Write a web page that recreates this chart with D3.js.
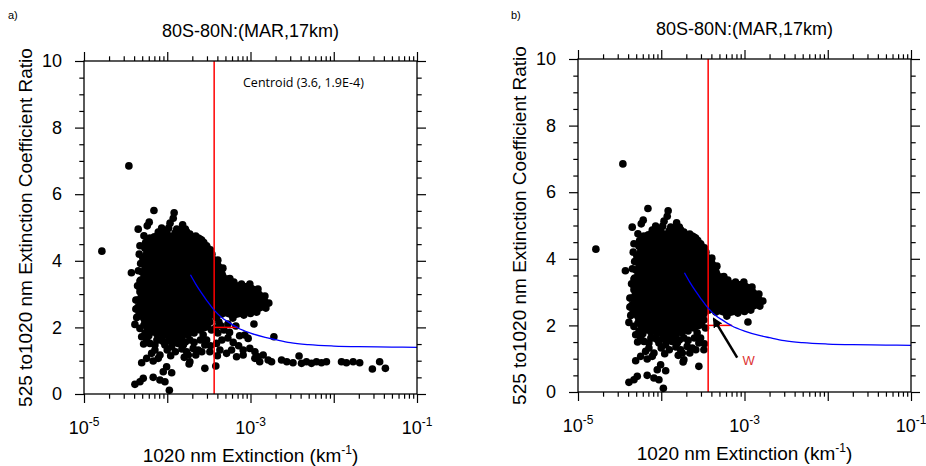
<!DOCTYPE html>
<html>
<head>
<meta charset="utf-8">
<script src="https://cdn.jsdelivr.net/npm/d3@7"></script>
<style>
  body { margin: 0; background: #fff; }
  svg { display: block; font-family: "Liberation Sans", Arial, Helvetica, sans-serif; }
</style>
</head>
<body>
<svg id="chart" width="926" height="466"></svg>
<script>
// ---- data ----
const titleText = "80S-80N:(MAR,17km)";
const xTitle = "1020 nm Extinction (km";
const yTitle = "525 to1020 nm Extinction Coefficient Ratio";

const xDomain = [1e-5, 1e-1];
const yDomain = [0, 10];
const xDecades = [1e-5, 1e-4, 1e-3, 1e-2, 1e-1];
const xLabelled = [1e-5, 1e-3, 1e-1];
const xLabelExp = ["-5", "-3", "-1"];
const yMajor = [0, 2, 4, 6, 8, 10];
const yMinor = [0.5, 1, 1.5, 2.5, 3, 3.5, 4.5, 5, 5.5, 6.5, 7, 7.5, 8.5, 9, 9.5];

const redLineX = 3.66e-4;
const wSegment = [[3.66e-4, 2.0], [7.1e-4, 2.0]];
const centroidLabel = "Centroid (3.6, 1.9E-4)";

// fitted curve (blue)
const fitCurve = [
  [1.9e-4, 3.58], [2.2e-4, 3.3], [2.6e-4, 3.02], [3.0e-4, 2.8], [3.66e-4, 2.52],
  [4.5e-4, 2.3], [5.5e-4, 2.15], [7e-4, 1.99], [1e-3, 1.83], [1.5e-3, 1.7],
  [2e-3, 1.63], [3e-3, 1.54], [5e-3, 1.48], [1e-2, 1.44], [2e-2, 1.42],
  [5e-2, 1.41], [1e-1, 1.40]
];

// outline of the solid, saturated part of the point cloud (edge points)
const coreOutline = [
  [5.40e-5, 4.38], [6.19e-5, 4.62], [7.0e-5, 4.72], [8.17e-5, 4.77], [1.0e-4, 4.80],
  [1.24e-4, 4.83], [1.5e-4, 4.82], [1.87e-4, 4.80], [2.2e-4, 4.74],
  [2.47e-4, 4.65], [2.99e-4, 4.41], [3.44e-4, 4.20], [4.05e-4, 4.02], [4.66e-4, 3.78],
  [5.20e-4, 3.45], [6.31e-4, 3.36], [7.8e-4, 3.30], [9.82e-4, 3.30], [1.23e-3, 3.15],
  [1.49e-3, 2.94], [1.66e-3, 2.73], [1.53e-3, 2.58], [1.19e-3, 2.46], [1.0e-3, 2.42],
  [8.32e-4, 2.37], [6.14e-4, 2.28], [4.53e-4, 2.40], [3.73e-4, 2.46], [3.25e-4, 2.16],
  [2.8e-4, 2.0], [2.47e-4, 1.92], [2.1e-4, 1.83], [1.77e-4, 1.77], [1.5e-4, 1.72],
  [1.24e-4, 1.71], [1.05e-4, 1.72], [8.87e-5, 1.74], [7.5e-5, 1.8], [6.54e-5, 1.86],
  [5.8e-5, 1.95], [5.25e-5, 2.07], [4.57e-5, 2.37], [4.44e-5, 2.6], [4.44e-5, 2.82],
  [4.70e-5, 3.18], [4.8e-5, 3.42], [4.97e-5, 3.66], [5.10e-5, 4.08]
];

// individual points shown in both panels
const sharedDots = [
  [3.46e-5, 6.85], [6.92e-5, 5.51], [1.21e-4, 5.44], [1.18e-4, 5.28], [6.07e-5, 5.16],
  [5.75e-5, 5.05], [4.48e-5, 4.95], [1.08e-4, 5.13], [1.04e-4, 4.98], [8.56e-5, 4.98],
  [7.80e-5, 4.86], [5.25e-5, 4.75], [6.78e-5, 4.68], [6.19e-5, 4.68], [1.39e-4, 4.92],
  [1.53e-4, 5.08], [1.71e-4, 4.87], [1.87e-4, 4.77], [2.36e-4, 4.68], [2.59e-4, 4.62],
  [2.97e-4, 4.45], [3.10e-4, 4.27], [5.91e-5, 4.47], [4.61e-5, 4.20], [4.79e-5, 3.92],
  [3.71e-5, 3.64], [4.70e-5, 3.39], [1.64e-5, 4.29], [4.70e-5, 3.07], [4.20e-5, 2.82],
  [4.09e-5, 2.09], [4.70e-5, 1.97], [5.40e-5, 1.82], [4.93e-5, 1.72], [5.66e-5, 1.62],
  [6.19e-5, 1.52], [7.11e-5, 1.47], [8.17e-5, 1.62], [9.38e-5, 1.47], [1.13e-4, 1.42],
  [1.35e-4, 1.52], [1.56e-4, 1.47], [1.87e-4, 1.62], [2.05e-4, 1.37], [2.36e-4, 1.32],
  [1.71e-4, 1.27], [1.79e-4, 1.17], [1.87e-4, 0.97], [2.83e-4, 1.47], [2.97e-4, 1.62],
  [3.25e-4, 1.27], [4.93e-5, 0.94], [5.66e-5, 1.07], [6.49e-5, 1.22], [7.11e-5, 1.32],
  [6.78e-5, 0.99], [7.80e-5, 1.07], [8.17e-5, 1.17], [9.83e-5, 0.82], [1.13e-4, 0.64],
  [8.95e-5, 0.67], [2.83e-4, 0.77], [4.09e-5, 0.29], [4.70e-5, 0.37], [5.15e-5, 0.47],
  [6.78e-5, 0.50], [8.17e-5, 0.42], [9.38e-5, 0.37], [1.06e-4, 0.11], [1.83e-4, 0.90],
  [5.65e-4, 3.47], [1.10e-3, 2.10],
  [6.0e-5, 1.75], [7.5e-5, 1.62], [9.0e-5, 1.57], [1.05e-4, 1.6], [1.2e-4, 1.56],
  [1.45e-4, 1.62], [1.65e-4, 1.56], [2.1e-4, 1.55], [2.5e-4, 1.62], [2.7e-4, 1.78],
  [3.3e-4, 1.45], [3.4e-4, 1.92], [3.05e-4, 2.02], [5.2e-5, 1.5], [1.0e-4, 1.32],
  [1.25e-4, 1.27], [1.5e-4, 1.35], [2.2e-4, 1.17], [2.6e-4, 1.27], [1.6e-4, 1.1],
  [1.1e-4, 1.15], [4.3e-5, 2.3], [4.2e-5, 2.55], [4.4e-5, 3.25], [4.5e-5, 3.7],
  [4.7e-5, 4.45], [5.5e-5, 4.55], [9.2e-5, 4.9], [1.3e-4, 4.95], [1.65e-4, 4.95],
  [2.75e-4, 4.55], [3.3e-4, 4.33], [3.5e-4, 3.85]
];

// points right of the red line under the curve: only in panel a
const removedInB = [
  [4.17e-4, 2.16], [5.35e-4, 2.10], [6.67e-4, 2.04], [3.91e-4, 1.52], [4.29e-4, 1.32],
  [5.16e-4, 1.22], [5.92e-4, 1.32], [6.80e-4, 1.12], [8.16e-4, 1.17], [8.55e-4, 1.77],
  [9.37e-4, 1.67], [8.16e-4, 1.32], [9.82e-4, 1.37], [1.13e-3, 1.27], [1.23e-3, 1.12],
  [1.42e-3, 1.17], [1.63e-3, 1.02], [1.79e-3, 0.97], [1.91e-3, 1.72], [3.83e-4, 0.84],
  [4.53e-4, 1.62], [4.05e-4, 1.83], [5.35e-4, 1.68], [1.13e-3, 1.07], [1.29e-3, 0.97],
  [2.36e-3, 1.02], [2.73e-3, 0.97], [3.24e-3, 0.94], [3.83e-3, 1.14], [4.10e-3, 0.92],
  [4.70e-3, 0.97], [5.40e-3, 0.92], [6.20e-3, 0.97], [7.12e-3, 0.94], [8.17e-3, 0.97],
  [1.24e-2, 0.97], [1.42e-2, 0.94], [1.71e-2, 0.97], [2.05e-2, 0.94], [2.91e-2, 0.75],
  [3.56e-2, 0.97], [4.17e-2, 0.77],
  [3.9e-4, 2.3], [4.4e-4, 2.05], [4.8e-4, 1.92], [5.6e-4, 1.85], [6.2e-4, 1.55],
  [7.2e-4, 1.45], [4.0e-4, 1.15], [7.4e-4, 1.75], [3.8e-4, 1.98]
];

// arrow + label in panel b
const wArrow = [[8.17e-4, 1.03], [4.29e-4, 2.19]];
const wLabel = { x: 9.46e-4, y: 0.81, text: "W" };

// ---- layout ----
const W = 333, H = 333;
const dotR = 3.8;
const panels = [
  { tag: "a)", tagX: 8, left: 84, top: 61, dots: sharedDots.concat(removedInB), centroid: true },
  { tag: "b)", tagX: 511, left: 578, top: 59, dots: sharedDots, arrow: true }
];

const svg = d3.select("#chart");

svg.append("defs").append("marker")
  .attr("id", "arrowhead")
  .attr("viewBox", "0 0 10 10")
  .attr("refX", 8).attr("refY", 5)
  .attr("markerWidth", 4).attr("markerHeight", 4)
  .attr("orient", "auto")
  .append("path")
  .attr("d", "M0,0L10,5L0,10Z")
  .attr("fill", "#000");

const xMinor = xDecades.slice(0, -1).flatMap(d => d3.range(2, 10).map(k => k * d));

panels.forEach(p => {
  const x = d3.scaleLog().domain(xDomain).range([0, W]);
  const y = d3.scaleLinear().domain(yDomain).range([H, 0]);

  svg.append("text")
    .attr("x", p.tagX).attr("y", 19)
    .style("font-size", "11px")
    .text(p.tag);

  const g = svg.append("g").attr("transform", `translate(${p.left},${p.top})`);

  // title
  g.append("text")
    .attr("x", W / 2).attr("y", -24)
    .attr("text-anchor", "middle")
    .style("font-size", "18px")
    .text(titleText);

  // data layer
  const plot = g.append("g");

  plot.append("path")
    .datum(coreOutline)
    .attr("d", d3.line().x(d => x(d[0])).y(d => y(d[1])).curve(d3.curveLinearClosed))
    .attr("fill", "#000")
    .attr("stroke", "#000")
    .attr("stroke-width", 2)
    .attr("stroke-linejoin", "round");

  plot.append("g")
    .selectAll("circle")
    .data(p.dots.concat(coreOutline))
    .join("circle")
    .attr("cx", d => x(d[0]))
    .attr("cy", d => y(d[1]))
    .attr("r", dotR)
    .attr("fill", "#000");

  // red lines
  plot.append("line")
    .attr("x1", x(redLineX)).attr("x2", x(redLineX))
    .attr("y1", y(yDomain[0])).attr("y2", y(yDomain[1]))
    .attr("stroke", "#ff0000").attr("stroke-width", 1.5);

  plot.append("path")
    .datum(wSegment)
    .attr("d", d3.line().x(d => x(d[0])).y(d => y(d[1])))
    .attr("stroke", "#ff0000").attr("stroke-width", 1.5).attr("fill", "none");

  // fitted curve
  plot.append("path")
    .datum(fitCurve)
    .attr("d", d3.line().x(d => x(d[0])).y(d => y(d[1])).curve(d3.curveMonotoneX))
    .attr("stroke", "#0000ff").attr("stroke-width", 1.3).attr("fill", "none");

  if (p.centroid) {
    g.append("text")
      .attr("x", 159).attr("y", 26)
      .style("font-family", "'Open Sans', 'Noto Sans', sans-serif")
      .style("font-size", "12.5px")
      .text(centroidLabel);
  }

  if (p.arrow) {
    plot.append("path")
      .datum(wArrow)
      .attr("d", d3.line().x(d => x(d[0])).y(d => y(d[1])))
      .attr("stroke", "#000").attr("stroke-width", 2.5).attr("fill", "none")
      .attr("marker-end", "url(#arrowhead)");
    plot.append("text")
      .attr("x", x(wLabel.x)).attr("y", y(wLabel.y))
      .attr("fill", "#dd3333")
      .style("font-size", "13px")
      .text(wLabel.text);
  }

  // axes: outward ticks on all four sides
  const axes = [
    { a: d3.axisBottom, t: `translate(0,${H})`, s: x, major: xDecades, minor: xMinor },
    { a: d3.axisTop, t: "translate(0,0)", s: x, major: xDecades, minor: xMinor },
    { a: d3.axisLeft, t: "translate(0,0)", s: y, major: yMajor, minor: yMinor, labels: true },
    { a: d3.axisRight, t: `translate(${W},0)`, s: y, major: yMajor, minor: yMinor }
  ];
  axes.forEach(ax => {
    const gMin = g.append("g").attr("transform", ax.t)
      .call(ax.a(ax.s).tickValues(ax.minor).tickSize(4.7).tickFormat(""));
    const gMaj = g.append("g").attr("transform", ax.t)
      .call(ax.a(ax.s).tickValues(ax.major).tickSize(9).tickPadding(13)
        .tickFormat(ax.labels ? d3.format("d") : ""));
    [gMin, gMaj].forEach(gg => {
      gg.select(".domain").remove();
      gg.selectAll("line").attr("stroke-width", 1.2);
    });
    gMaj.selectAll("text").style("font-size", "18px").attr("fill", "#000");
  });

  // frame
  g.append("rect")
    .attr("width", W).attr("height", H)
    .attr("fill", "none").attr("stroke", "#000").attr("stroke-width", 1.3);

  // x tick labels 10^n
  const xl = g.append("g").selectAll("text")
    .data(xLabelled)
    .join("text")
    .attr("x", d => x(d))
    .attr("y", H + 40)
    .attr("text-anchor", "middle")
    .style("font-size", "18px");
  xl.append("tspan").text("10");
  xl.append("tspan")
    .attr("dy", -8)
    .style("font-size", "12px")
    .text((d, i) => xLabelExp[i]);

  // axis titles
  const xt = g.append("text")
    .attr("x", W / 2).attr("y", H + 68)
    .attr("text-anchor", "middle")
    .style("font-size", "19px");
  xt.append("tspan").text(xTitle);
  xt.append("tspan").attr("dy", -8).style("font-size", "12px").text("-1");
  xt.append("tspan").attr("dy", 8).text(")");

  g.append("text")
    .attr("transform", `translate(-52,${H / 2}) rotate(-90)`)
    .attr("text-anchor", "middle")
    .style("font-size", "19px")
    .text(yTitle);
});
</script>
</body>
</html>
